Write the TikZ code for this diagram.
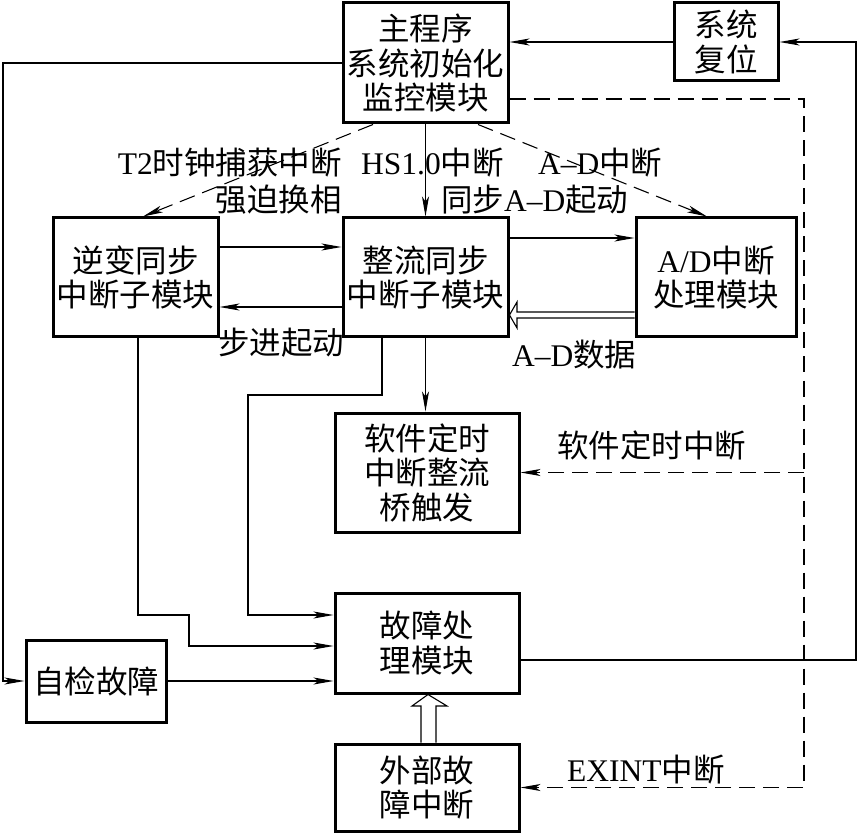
\documentclass[tikz,border=0pt]{standalone}
\usepackage{fontspec}
\setmainfont{Liberation Serif}
\newfontfamily\cjk{Noto Sans CJK SC}
\usetikzlibrary{arrows.meta}
\newcommand{\latn}[1]{{\rmfamily #1}}

\begin{document}
\begin{tikzpicture}[
    x=1pt, y=-1pt,
    box/.style={rectangle, draw, line width=3pt, inner sep=0pt, align=center, font=\cjk\fontsize{31.5}{34.5}\selectfont},
    lbl/.style={inner sep=0pt, font=\cjk\fontsize{31.5}{34.5}\selectfont},
    arr/.style={-{Stealth[length=20pt, width=7pt, inset=5pt]}, line width=1.1pt},
    darr/.style={arr, dash pattern=on 16pt off 8pt},
    hollow/.style={line width=1.1pt, line join=miter}
]
\useasboundingbox (0,0) rectangle (857,834);

\node[box, minimum width=165pt, minimum height=120pt] (main) at (425.5,63) {主程序\\系统初始化\\监控模块};
\node[box, minimum width=104pt, minimum height=78pt] (reset) at (726,42) {系统\\复位};
\node[box, minimum width=165pt, minimum height=119pt] (inv) at (135.5,277.5) {逆变同步\\中断子模块};
\node[box, minimum width=165pt, minimum height=119pt] (rect) at (425.5,277.5) {整流同步\\中断子模块};
\node[box, minimum width=160pt, minimum height=119pt] (ad) at (716,277.5) {\latn{A/D}中断\\处理模块};
\node[box, minimum width=184pt, minimum height=119pt] (timer) at (427,472.5) {软件定时\\中断整流\\桥触发};
\node[box, minimum width=184pt, minimum height=100pt] (fault) at (427,643) {故障处\\理模块};
\node[box, minimum width=140pt, minimum height=82pt] (self) at (96,681) {自检故障};
\node[box, minimum width=184pt, minimum height=87pt] (ext) at (427,787.5) {外部故\\障中断};

\node[lbl, anchor=east] (lt2) at (342,163) {\latn{T2}时钟捕获中断};
\node[lbl, anchor=east] (lqp) at (342,200) {强迫换相};
\node[lbl, anchor=west] (lhs) at (361,163) {\latn{HS1.0}中断};
\node[lbl, anchor=west] (ltb) at (441,200) {同步\latn{A--D}起动};
\node[lbl, anchor=west] (lad) at (538,163) {\latn{A--D}中断};
\node[lbl, anchor=west] (lbj) at (218,343) {步进起动};
\node[lbl, anchor=west] (lsj) at (512,355) {\latn{A--D}数据};
\node[lbl, anchor=west] (lrj) at (557,445) {软件定时中断};
\node[lbl, anchor=west] (lex) at (567,770) {\latn{EXINT}中断};

\draw[arr] (reset.west) -- (main.east |- reset.west);
\draw[arr] (fault.east |- 0,660) -| (856,0 |- reset.east) -- (reset.east);
\draw[arr] (main.west) -| (3,0 |- self.west) -- (self.west);
\draw[darr] (main.east |- 0,99) -| (804,0 |- ext.east) -- (ext.east);
\draw[darr] (804,0 |- timer.east) -- (timer.east);

\draw[darr] (373,0 |- main.south) -- (143,0 |- inv.north);
\draw[arr] (main.south) -- (rect.north);
\draw[darr] (478,0 |- main.south) -- (707,0 |- ad.north);

\draw[arr] (inv.east |- 0,247) -- (rect.west |- 0,247);
\draw[arr] (rect.west |- 0,307) -- (inv.east |- 0,307);
\draw[arr] (rect.east |- 0,238) -- (ad.west |- 0,238);
\draw[hollow] (ad.west |- 0,312) -- (517,312) -- (517,302) -- (rect.east |- 0,315) -- (517,328) -- (517,318) -- (ad.west |- 0,318);

\draw[arr] (rect.south) -- (rect.south |- timer.north);
\draw[arr] (382,0 |- rect.south) |- (248,395) |- (fault.west |- 0,615);
\draw[arr] (138,0 |- inv.south) |- (189,615) |- (fault.west |- 0,646);
\draw[arr] (self.east) -- (fault.west |- self.east);
\draw[hollow] (421,0 |- ext.north) -- (421,706) -- (412,706) -- (428,0 |- fault.south) -- (447,706) -- (436,706) -- (436,0 |- ext.north);
\end{tikzpicture}
\end{document}
